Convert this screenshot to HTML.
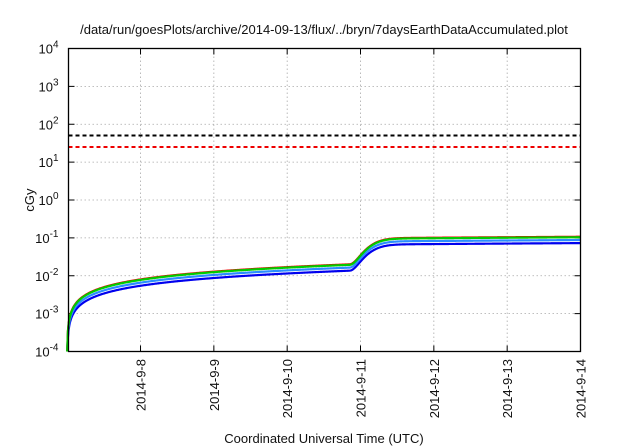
<!DOCTYPE html>
<html><head><meta charset="utf-8"><style>
html,body{margin:0;padding:0;background:#fff;}
svg{display:block;font-family:"Liberation Sans",sans-serif;}
</style></head><body>
<svg id="s" width="640" height="448" viewBox="0 0 640 448" xmlns="http://www.w3.org/2000/svg">
<rect width="640" height="448" fill="#fff"/>
<text x="324" y="34" font-size="13" text-anchor="middle" fill="#111">/data/run/goesPlots/archive/2014-09-13/flux/../bryn/7daysEarthDataAccumulated.plot</text>
<g id="grid" stroke="#aaa" stroke-width="0.8" stroke-dasharray="1.5,2.5"></g>
<g id="ticks" stroke="#000" stroke-width="1"></g>
<g id="lab" font-size="13" fill="#111"></g>
<line x1="68.5" y1="135.5" x2="580.5" y2="135.5" stroke="#000" stroke-width="2" stroke-dasharray="4,3"/>
<line x1="68.5" y1="147" x2="580.5" y2="147" stroke="#e00" stroke-width="2" stroke-dasharray="4,3"/>
<g id="curves" fill="none" stroke-width="2.2"></g>
<rect x="68.5" y="48.5" width="512" height="303" fill="none" stroke="#000" stroke-width="1.3"/>
<text x="0" y="0" font-size="13" transform="translate(34,200) rotate(-90)" text-anchor="middle" fill="#111">cGy</text>
<text x="324" y="443" font-size="13" text-anchor="middle" fill="#111">Coordinated Universal Time (UTC)</text>
</svg>
<script>
var NS="http://www.w3.org/2000/svg";
function el(p,t,a,txt){var e=document.createElementNS(NS,t);for(var k in a)e.setAttribute(k,a[k]);if(txt!==undefined)e.textContent=txt;document.getElementById(p).appendChild(e);return e;}
var L=68.5,R=580.5,T=48.5,B=351.5,D=37.875,dx=73.33;
function Y(v){return B-(Math.log10(v)+4)*D;}
function X(t){return 580.5-(7-t)*dx;}
for(var i=-4;i<=4;i++){var y=B-(i+4)*D;
 if(i>-4&&i<4)el("grid","line",{x1:L,y1:y,x2:R,y2:y});
 el("ticks","line",{x1:L,y1:y,x2:L+6,y2:y});el("ticks","line",{x1:R,y1:y,x2:R-6,y2:y});
 var t=el("lab","text",{x:L-10,y:y+5,"text-anchor":"end"});t.textContent="10";
 var s=document.createElementNS(NS,"tspan");s.setAttribute("dy","-6");s.setAttribute("font-size","10");s.textContent=i;t.appendChild(s);}
for(var d=8;d<=14;d++){var x=X(d-7);
 if(d<14)el("grid","line",{x1:x,y1:T,x2:x,y2:B});
 el("ticks","line",{x1:x,y1:B,x2:x,y2:B-6});el("ticks","line",{x1:x,y1:T,x2:x,y2:T+6});
 el("lab","text",{x:0,y:0,transform:"translate("+(x+5)+",359) rotate(-90)","text-anchor":"end"},"2014-9-"+d);}
function f(t){var g=t>3.85?1-Math.exp(-Math.pow((t-3.85)/0.33,2)):0;return 8e-3*Math.pow(t,0.68)+0.077*g;}
var cs=[["#0000ee",0.68],["#2a8cff",0.82],["#ee0000",1.0],["#00cc00",0.97]];
cs.forEach(function(c){var p="";for(var i=0;i<=700;i++){var t=i/100;var v=Math.max(1e-4,f(t)*c[1]);if(t===0)v=1e-4;
 p+=(i?"L":"M")+X(t).toFixed(2)+","+Math.min(B,Y(v)).toFixed(2);}
 el("curves","path",{d:p,stroke:c[0]});});
</script>
</body></html>
